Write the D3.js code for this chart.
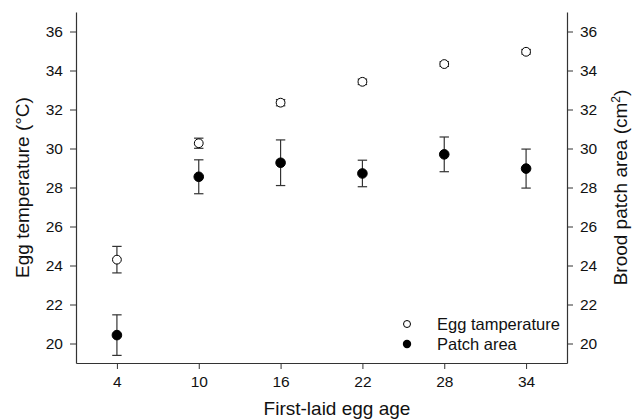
<!DOCTYPE html>
<html>
<head>
<meta charset="utf-8">
<script src="https://cdn.jsdelivr.net/npm/d3@7"></script>
<style>
  body { margin: 0; background: #fff; }
  svg text { font-family: Arial, "Liberation Sans", sans-serif; fill: #111; }
</style>
</head>
<body>
<svg id="chart" width="634" height="420"></svg>
<script>
// first-laid egg age (days)
var ages = [4, 10, 16, 22, 28, 34];
// egg temperature mean and error (deg C)
var eggTemp = [24.3, 30.27, 32.35, 33.42, 34.33, 34.96];
var eggTempErr = [0.68, 0.26, 0.16, 0.14, 0.12, 0.12];
// brood patch area mean and error (cm2)
var patchArea = [20.43, 28.55, 29.27, 28.72, 29.7, 28.97];
var patchAreaErr = [1.04, 0.87, 1.17, 0.68, 0.89, 1.0];

var xTicks = [4, 10, 16, 22, 28, 34];
var yTicks = [20, 22, 24, 26, 28, 30, 32, 34, 36];

var margin = {top: 12, right: 67, bottom: 57, left: 76};
var width = 634 - margin.left - margin.right;
var height = 420 - margin.top - margin.bottom;

var svg = d3.select("#chart");
var g = svg.append("g").attr("transform", "translate(" + margin.left + "," + margin.top + ")");

var x = d3.scaleLinear().domain([1, 37]).range([0, width]);
var yL = d3.scaleLinear().domain([19, 37]).range([height, 0]);
var yR = d3.scaleLinear().domain([19, 37]).range([height, 0]);

var axisColor = "#333";

// axes
var xAxis = g.append("g").attr("transform", "translate(0," + height + ")")
  .call(d3.axisBottom(x).tickValues(xTicks).tickSize(6).tickSizeOuter(0).tickPadding(7));
var leftAxis = g.append("g")
  .call(d3.axisLeft(yL).tickValues(yTicks).tickSize(6).tickSizeOuter(0).tickPadding(7));
var rightAxis = g.append("g").attr("transform", "translate(" + width + ",0)")
  .call(d3.axisRight(yR).tickValues(yTicks).tickSize(6).tickSizeOuter(0).tickPadding(7));

[xAxis, leftAxis, rightAxis].forEach(function(a) {
  a.select(".domain").attr("stroke", axisColor).attr("stroke-width", 1.2);
  a.selectAll(".tick line").attr("stroke", axisColor);
  a.selectAll(".tick text").attr("font-size", 15.5).attr("fill", "#111");
});

// axis titles
g.append("text")
  .attr("x", 337 - margin.left).attr("y", height + 52)
  .attr("text-anchor", "middle").attr("font-size", 19)
  .text("First-laid egg age");

g.append("text")
  .attr("transform", "translate(" + (-47) + "," + (height / 2) + ") rotate(-90)")
  .attr("text-anchor", "middle").attr("font-size", 19)
  .text("Egg temperature (°C)");

var rt = g.append("text")
  .attr("transform", "translate(" + (width + 60) + "," + (height / 2) + ") rotate(-90)")
  .attr("text-anchor", "middle").attr("font-size", 19);
rt.append("tspan").text("Brood patch area (cm");
rt.append("tspan").attr("dy", -7).attr("font-size", 12).text("2");
rt.append("tspan").attr("dy", 7).text(")");

// error bars + points
function drawSeries(vals, errs, filled) {
  var capW = 4.7;
  var eb = g.append("g").attr("stroke", "#333").attr("stroke-width", 1.2);
  ages.forEach(function(a, i) {
    var cx = x(a), lo = yL(vals[i] - errs[i]), hi = yL(vals[i] + errs[i]);
    eb.append("line").attr("x1", cx).attr("x2", cx).attr("y1", lo).attr("y2", hi);
    eb.append("line").attr("x1", cx - capW).attr("x2", cx + capW).attr("y1", lo).attr("y2", lo);
    eb.append("line").attr("x1", cx - capW).attr("x2", cx + capW).attr("y1", hi).attr("y2", hi);
  });
  g.append("g").selectAll("circle").data(vals).join("circle")
    .attr("cx", function(d, i) { return x(ages[i]); })
    .attr("cy", function(d) { return yL(d); })
    .attr("r", filled ? 4.8 : 4.4)
    .attr("fill", filled ? "#000" : "#fff")
    .attr("stroke", "#000").attr("stroke-width", 1);
}
drawSeries(eggTemp, eggTempErr, false);
drawSeries(patchArea, patchAreaErr, true);

// legend
var legend = g.append("g").attr("transform", "translate(" + (407 - margin.left) + "," + (324 - margin.top) + ")");
legend.append("circle").attr("r", 3.5).attr("fill", "#fff").attr("stroke", "#000");
legend.append("circle").attr("cy", 20).attr("r", 4.2).attr("fill", "#000");
legend.append("text").attr("x", 30).attr("y", 5.5).attr("font-size", 16.5).text("Egg tamperature");
legend.append("text").attr("x", 30).attr("y", 25.5).attr("font-size", 16.5).text("Patch area");
</script>
</body>
</html>
